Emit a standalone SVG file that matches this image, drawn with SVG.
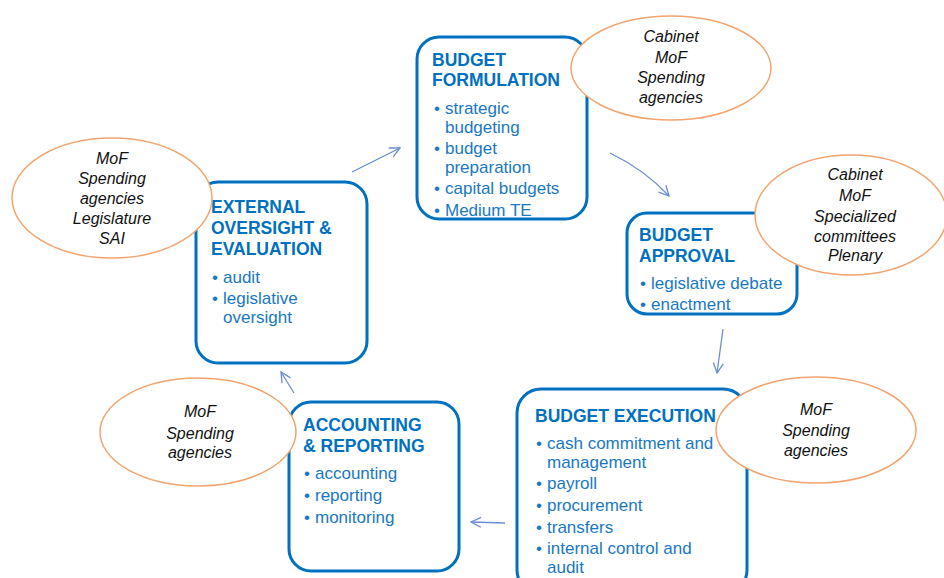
<svg xmlns="http://www.w3.org/2000/svg" width="944" height="578" viewBox="0 0 944 578">
<defs>
<style>
.box{fill:#fff;stroke:#0070C0;stroke-width:3}
.ell{fill:#fff;stroke:#F2A470;stroke-width:1.5}
.t{font-family:"Liberation Sans",Arial,sans-serif;font-weight:bold;font-size:17.5px;fill:#0070C0}
.b{font-family:"Liberation Sans",Arial,sans-serif;font-size:17px;fill:#1A78C2}
.e{font-family:"Liberation Sans",Arial,sans-serif;font-style:italic;font-size:16px;fill:#111;text-anchor:middle}
.c{fill:none;stroke:#6A8DD6;stroke-width:1.3}
</style>
<marker id="ah" viewBox="0 0 12 12" refX="11" refY="6" markerWidth="12" markerHeight="12" markerUnits="userSpaceOnUse" orient="auto">
<path d="M1,1 L11,6 L1,11" fill="none" stroke="#6A8DD6" stroke-width="1.3"/>
</marker>
</defs>
<rect width="944" height="578" fill="#fff"/>

<g id="connectors">
<path class="c" d="M352,172 L400,148" marker-end="url(#ah)"/>
<path class="c" d="M610,153 Q645,170 669,196" marker-end="url(#ah)"/>
<path class="c" d="M723,329 L717,373" marker-end="url(#ah)"/>
<path class="c" d="M505,523 L471,522" marker-end="url(#ah)"/>
<path class="c" d="M294,393 L281,372" marker-end="url(#ah)"/>
</g>

<g id="formulation">
<rect class="box" x="417" y="37" width="170" height="182" rx="22"/>
<text class="t" x="432" y="66">BUDGET</text>
<text class="t" x="432" y="86">FORMULATION</text>
<text class="b"><tspan x="434" y="114">•</tspan><tspan x="445" y="114">strategic</tspan></text>
<text class="b" x="445" y="133">budgeting</text>
<text class="b"><tspan x="434" y="154">•</tspan><tspan x="445" y="154">budget</tspan></text>
<text class="b" x="445" y="173">preparation</text>
<text class="b"><tspan x="434" y="194">•</tspan><tspan x="445" y="194">capital budgets</tspan></text>
<text class="b"><tspan x="434" y="216">•</tspan><tspan x="445" y="216">Medium TE</tspan></text>
</g>

<g id="approval">
<rect class="box" x="627" y="213" width="170" height="101" rx="20"/>
<text class="t" x="639" y="241">BUDGET</text>
<text class="t" x="639" y="262">APPROVAL</text>
<text class="b"><tspan x="640" y="289">•</tspan><tspan x="651" y="289">legislative debate</tspan></text>
<text class="b"><tspan x="640" y="310">•</tspan><tspan x="651" y="310">enactment</tspan></text>
</g>

<g id="execution">
<rect class="box" x="517" y="389" width="230" height="205" rx="24"/>
<text class="t" x="535" y="422">BUDGET EXECUTION</text>
<text class="b"><tspan x="536" y="449">•</tspan><tspan x="547" y="449">cash commitment and</tspan></text>
<text class="b" x="547" y="468">management</text>
<text class="b"><tspan x="536" y="489">•</tspan><tspan x="547" y="489">payroll</tspan></text>
<text class="b"><tspan x="536" y="511">•</tspan><tspan x="547" y="511">procurement</tspan></text>
<text class="b"><tspan x="536" y="533">•</tspan><tspan x="547" y="533">transfers</tspan></text>
<text class="b"><tspan x="536" y="554">•</tspan><tspan x="547" y="554">internal control and</tspan></text>
<text class="b" x="547" y="573">audit</text>
</g>

<g id="accounting">
<rect class="box" x="289" y="402" width="170" height="169" rx="22"/>
<text class="t" x="303" y="431">ACCOUNTING</text>
<text class="t" x="303" y="452">&amp; REPORTING</text>
<text class="b"><tspan x="304" y="479">•</tspan><tspan x="315" y="479">accounting</tspan></text>
<text class="b"><tspan x="304" y="501">•</tspan><tspan x="315" y="501">reporting</tspan></text>
<text class="b"><tspan x="304" y="523">•</tspan><tspan x="315" y="523">monitoring</tspan></text>
</g>

<g id="external">
<rect class="box" x="196" y="182" width="171" height="181" rx="22"/>
<text class="t" x="211" y="213">EXTERNAL</text>
<text class="t" x="211" y="234">OVERSIGHT &amp;</text>
<text class="t" x="211" y="255">EVALUATION</text>
<text class="b"><tspan x="212" y="283">•</tspan><tspan x="223" y="283">audit</tspan></text>
<text class="b"><tspan x="212" y="304">•</tspan><tspan x="223" y="304">legislative</tspan></text>
<text class="b" x="223" y="323">oversight</text>
</g>

<g id="actors-formulation">
<ellipse class="ell" cx="671" cy="68" rx="100" ry="52"/>
<text class="e" x="671" y="42">Cabinet</text>
<text class="e" x="671" y="63">MoF</text>
<text class="e" x="671" y="83">Spending</text>
<text class="e" x="671" y="103">agencies</text>
</g>

<g id="actors-approval">
<ellipse class="ell" cx="851" cy="215" rx="96" ry="60"/>
<text class="e" x="855" y="180">Cabinet</text>
<text class="e" x="855" y="201">MoF</text>
<text class="e" x="855" y="222">Specialized</text>
<text class="e" x="855" y="242">committees</text>
<text class="e" x="855" y="261">Plenary</text>
</g>

<g id="actors-execution">
<ellipse class="ell" cx="816" cy="430" rx="100" ry="53"/>
<text class="e" x="816" y="415">MoF</text>
<text class="e" x="816" y="436">Spending</text>
<text class="e" x="816" y="456">agencies</text>
</g>

<g id="actors-accounting">
<ellipse class="ell" cx="198" cy="432" rx="98" ry="54"/>
<text class="e" x="200" y="417">MoF</text>
<text class="e" x="200" y="439">Spending</text>
<text class="e" x="200" y="458">agencies</text>
</g>

<g id="actors-external">
<ellipse class="ell" cx="112" cy="198" rx="100" ry="60"/>
<text class="e" x="112" y="164">MoF</text>
<text class="e" x="112" y="184">Spending</text>
<text class="e" x="112" y="204">agencies</text>
<text class="e" x="112" y="224">Legislature</text>
<text class="e" x="112" y="244">SAI</text>
</g>
</svg>
